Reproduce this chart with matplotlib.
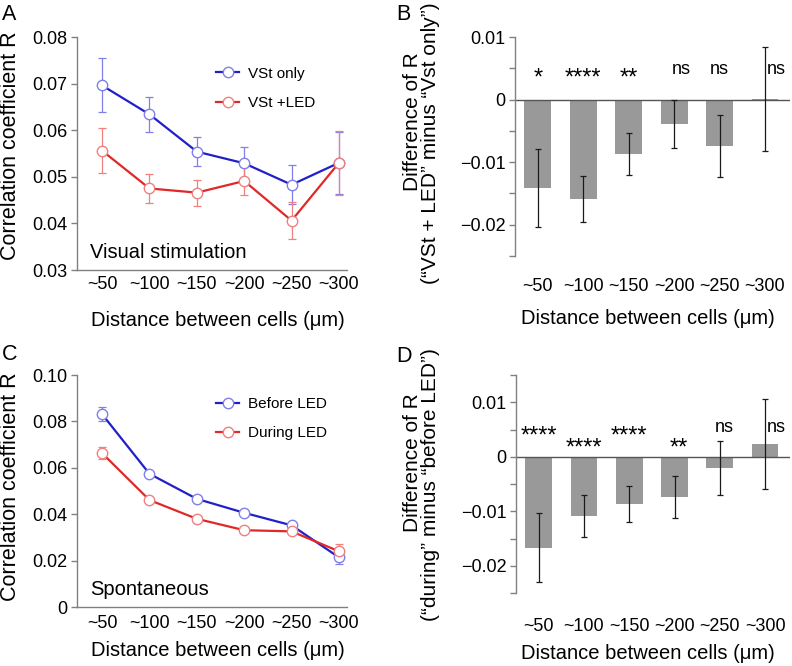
import numpy as np
import matplotlib
matplotlib.use("Agg")
import matplotlib.pyplot as plt

plt.rcParams['font.family'] = ['Liberation Sans', 'DejaVu Sans']

distance_labels = ["~50", "~100", "~150", "~200", "~250", "~300"]

# A: visual stimulation
vst_only = [0.0696, 0.0634, 0.0554, 0.0529, 0.0483, 0.0530]
vst_only_err = [0.0058, 0.0037, 0.0031, 0.0034, 0.0042, 0.0066]
vst_led = [0.0556, 0.0475, 0.0466, 0.0491, 0.0406, 0.0530]
vst_led_err = [0.0048, 0.0031, 0.0028, 0.0031, 0.0039, 0.0069]

# B: difference VSt+LED minus VSt only
diff_vst = [-0.0141, -0.0159, -0.0087, -0.0039, -0.0074, 0.0001]
diff_vst_err = [0.0062, 0.0037, 0.0033, 0.0039, 0.0049, 0.0083]
sig_vst = ["*", "****", "**", "ns", "ns", "ns"]

# C: spontaneous
before_led = [0.0831, 0.0574, 0.0466, 0.0406, 0.0352, 0.0214]
before_led_err = [0.0030, 0.0010, 0.0008, 0.0008, 0.0008, 0.0028]
during_led = [0.0663, 0.0461, 0.0380, 0.0331, 0.0326, 0.0240]
during_led_err = [0.0027, 0.0008, 0.0007, 0.0007, 0.0007, 0.0030]

# D: difference during minus before
diff_spont = [-0.0167, -0.0109, -0.0086, -0.0074, -0.0021, 0.0023]
diff_spont_err = [0.0063, 0.0038, 0.0033, 0.0039, 0.0049, 0.0083]
sig_spont = ["****", "****", "****", "**", "ns", "ns"]

BLUE = '#2020c8'
BLUE_LIGHT = '#8080e8'
RED = '#e02828'
RED_LIGHT = '#f08080'
SPINE = '#808080'
XLABEL = 'Distance between cells (\u03bcm)'


def tick_text(v):
    if abs(v) < 1e-12:
        return "0"
    return f"{v:.2f}".replace('-', '\u2212')


def style_axis(ax):
    for side in ['top', 'right']:
        ax.spines[side].set_visible(False)
    for side in ['left', 'bottom']:
        ax.spines[side].set_color(SPINE)
        ax.spines[side].set_linewidth(1.0)
    ax.tick_params(axis='y', which='both', direction='out', length=4,
                   width=1.0, color=SPINE, labelsize=13, pad=3)
    ax.tick_params(axis='x', length=0, labelsize=13)


def line_panel(ax, series, ylim, yticks, note, leg_top, xpad, xlab_y, ylab_y):
    x = np.arange(len(distance_labels))
    for vals, errs, dark, light, name in series:
        ax.errorbar(x, vals, yerr=errs, ls='none', ecolor=light, elinewidth=0.9,
                    capsize=3, capthick=0.9, zorder=1)
        ax.plot(x, vals, color=dark, lw=1.6, marker='o', ms=7.5,
                mfc='white', mec=light, mew=1.0, label=name, zorder=2)
    style_axis(ax)
    ax.set_xlim(-0.53, 5.17)
    ax.set_ylim(*ylim)
    ax.set_yticks(yticks)
    ax.set_yticklabels([tick_text(v) for v in yticks])
    ax.set_xticks(x)
    ax.set_xticklabels(distance_labels)
    ax.tick_params(axis='x', pad=xpad)
    ax.set_xlabel(XLABEL, fontsize=14.5)
    ax.xaxis.set_label_coords(0.52, xlab_y)
    ax.set_ylabel('Correlation coefficient R', fontsize=15.5)
    ax.yaxis.set_label_coords(-0.207, ylab_y)
    ax.text(0.048, 0.05, note, transform=ax.transAxes, fontsize=14.5,
            ha='left', va='baseline')
    ax.legend(loc='upper left', bbox_to_anchor=(0.515, leg_top), frameon=False,
              fontsize=11, handlelength=1.5, handletextpad=0.6,
              labelspacing=1.0, borderpad=0, borderaxespad=0)


def bar_panel(ax, vals, errs, sigs, sig_y, sig_dx, ylim, major, minor,
              ylabel_lines, xpad, xlab_y):
    x = np.arange(len(distance_labels))
    ax.bar(x, vals, width=0.59, color='#999999', zorder=1)
    ax.errorbar(x, vals, yerr=errs, ls='none', ecolor='#1a1a1a', elinewidth=0.9,
                capsize=2.5, capthick=0.9, zorder=3)
    ax.axhline(0, color='#555555', lw=1.0, zorder=2)
    style_axis(ax)
    ax.spines['bottom'].set_visible(False)
    ax.set_xlim(-0.5, 5.55)
    ax.set_ylim(*ylim)
    ax.set_yticks(major)
    ax.set_yticklabels([tick_text(v) for v in major])
    ax.set_yticks(minor, minor=True)
    ax.set_xticks(x)
    ax.set_xticklabels(distance_labels)
    ax.tick_params(axis='x', pad=xpad)
    ax.set_xlabel(XLABEL, fontsize=14.5)
    ax.xaxis.set_label_coords(0.483, xlab_y)
    # two-line y label, each line placed on its own (pixel centres)
    for text, px, py in ylabel_lines:
        fig.text(px / W, 1 - py / H, text, rotation=90, fontsize=15,
                 ha='center', va='center')
    for i, s in enumerate(sigs):
        ax.text(i + sig_dx[i], sig_y[i], s, ha='center', va='baseline',
                fontsize=13 if s == 'ns' else 17)


fig = plt.figure(figsize=(7.92, 6.66), dpi=100)
W, H = 792.0, 666.0

axA = fig.add_axes([77 / W, 1 - 270 / H, 270 / W, 233 / H])
axB = fig.add_axes([515 / W, 1 - 256 / H, 275 / W, 219 / H])
axC = fig.add_axes([77 / W, 1 - 607 / H, 270 / W, 232 / H])
axD = fig.add_axes([516 / W, 1 - 593 / H, 274 / W, 218 / H])

line_panel(axA,
           [(vst_only, vst_only_err, BLUE, BLUE_LIGHT, 'VSt only'),
            (vst_led, vst_led_err, RED, RED_LIGHT, 'VSt +LED')],
           (0.03, 0.08), [0.03, 0.04, 0.05, 0.06, 0.07, 0.08],
           'Visual stimulation', 0.873, 4, -0.176, 0.532)

line_panel(axC,
           [(before_led, before_led_err, BLUE, BLUE_LIGHT, 'Before LED'),
            (during_led, during_led_err, RED, RED_LIGHT, 'During LED')],
           (0.0, 0.10), [0.0, 0.02, 0.04, 0.06, 0.08, 0.10],
           'Spontaneous', 0.905, 6, -0.147, 0.517)

bar_panel(axB, diff_vst, diff_vst_err, sig_vst,
          [0.0024, 0.0024, 0.0024, 0.0041, 0.0041, 0.0041],
          [0, 0, 0, 0.15, 0, 0.25],
          (-0.025, 0.01), [-0.02, -0.01, 0.0, 0.01],
          [-0.025, -0.015, -0.005, 0.005],
          [('Difference of R', 412, 122),
           ('(\u201cVSt + LED\u201d minus \u201cVst only\u201d)', 430, 143)],
          16, -0.24)

bar_panel(axD, diff_spont, diff_spont_err, sig_spont,
          [0.0026, 0.0004, 0.0026, 0.0004, 0.0046, 0.0046],
          [0, 0, 0, 0.1, 0.1, 0.25],
          (-0.025, 0.015), [-0.02, -0.01, 0.0, 0.01],
          [-0.025, -0.015, -0.005, 0.005, 0.015],
          [('Difference of R', 412, 463),
           ('(\u201cduring\u201d minus \u201cbefore LED\u201d)', 430, 485)],
          18, -0.232)

for letter, px, py in [('A', 2, 20), ('B', 396, 20), ('C', 2, 360), ('D', 396, 362)]:
    fig.text(px / W, 1 - py / H, letter, fontsize=15.5, ha='left', va='baseline')

fig.savefig('out.png', dpi=100)
